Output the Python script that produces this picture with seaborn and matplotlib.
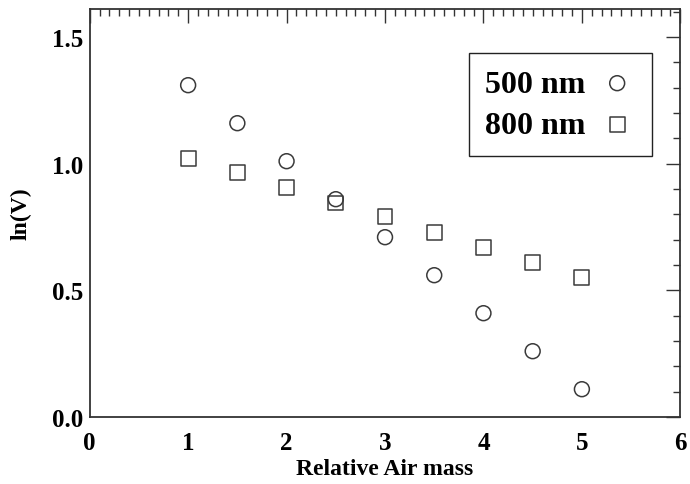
import matplotlib
matplotlib.use("Agg")
import matplotlib.pyplot as plt
import seaborn as sns
from matplotlib.ticker import MultipleLocator

air_mass = [1.0, 1.5, 2.0, 2.5, 3.0, 3.5, 4.0, 4.5, 5.0]
ln_v_500 = [1.31, 1.16, 1.01, 0.86, 0.71, 0.56, 0.41, 0.26, 0.11]
ln_v_800 = [1.02, 0.965, 0.905, 0.845, 0.79, 0.73, 0.67, 0.61, 0.55]
series_labels = ["500 nm", "800 nm"]

sns.set_style("white")
plt.rcParams['font.family'] = ['Liberation Serif', 'DejaVu Serif']
plt.rcParams['font.weight'] = 'bold'
plt.rcParams['text.color'] = 'black'
plt.rcParams['axes.labelcolor'] = 'black'

fig = plt.figure(figsize=(6.9, 4.85), dpi=100)
ax = fig.add_axes([0.130, 0.138, 0.856, 0.841])

edge = '#3a3a3a'
sns.scatterplot(x=air_mass, y=ln_v_500, marker='o', s=115, facecolors='none',
                edgecolor=edge, linewidth=1.1, label=series_labels[0], ax=ax)
sns.scatterplot(x=air_mass, y=ln_v_800, marker='s', s=115, facecolors='none',
                edgecolor=edge, linewidth=1.1, label=series_labels[1], ax=ax)

ax.set_xlim(0, 6)
ax.set_ylim(0, 1.61)
ax.xaxis.set_minor_locator(MultipleLocator(0.1))
ax.yaxis.set_minor_locator(MultipleLocator(0.1))
ax.set_xticks([0, 1, 2, 3, 4, 5, 6])
ax.set_xticklabels(['0', '1', '2', '3', '4', '5', '6'])
ax.set_yticks([0.0, 0.5, 1.0, 1.5])
ax.set_yticklabels(['0.0', '0.5', '1.0', '1.5'])

ax.tick_params(which='both', direction='in', top=True, right=True, colors='#333333',
               labelcolor='black', labelsize=18, width=1.0)
ax.tick_params(which='major', length=10)
ax.tick_params(axis='x', which='major', pad=10)
ax.tick_params(axis='y', which='major', pad=5)
ax.tick_params(which='minor', length=5)
for lab in ax.get_xticklabels() + ax.get_yticklabels():
    lab.set_fontweight('bold')
for sp in ax.spines.values():
    sp.set_color('#333333')
    sp.set_linewidth(1.3)

ax.set_xlabel('Relative Air mass', fontsize=17, fontweight='bold', labelpad=3, color='black')
ax.set_ylabel('ln(V)', fontsize=17, fontweight='bold', labelpad=14, color='black')

leg = ax.legend(loc='upper left', bbox_to_anchor=(0.642, 0.892), markerfirst=False,
                fancybox=False, edgecolor='#222222', framealpha=1,
                prop={'family': 'Liberation Serif', 'weight': 'bold', 'size': 23},
                handletextpad=0.4, borderpad=0.5, labelspacing=0.38,
                handlelength=1.2, borderaxespad=0)
leg.get_frame().set_linewidth(1.0)
for t in leg.get_texts():
    t.set_color('black')

fig.savefig('out.png', dpi=100)
